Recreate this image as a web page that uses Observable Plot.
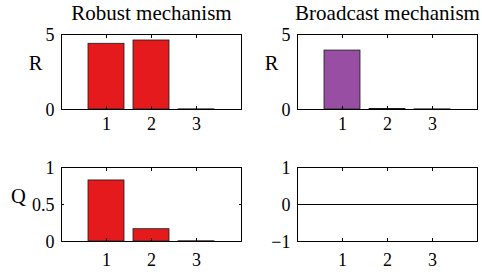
<!DOCTYPE html>
<html>
<head>
<meta charset="utf-8">
<script src="https://cdn.jsdelivr.net/npm/d3@7"></script>
<script src="https://cdn.jsdelivr.net/npm/@observablehq/plot@0.6"></script>
<style>
  html, body { margin: 0; padding: 0; background: #fff; }
  #chart { position: relative; width: 482px; height: 278px; overflow: hidden; font-family: "Liberation Serif", serif; }
  #chart > svg { position: absolute; overflow: visible; }
  #chart svg text { font-family: "Liberation Serif", serif !important; }
</style>
</head>
<body>
<div id="chart"></div>
<script>
// ---- data ----
const categories = [1, 2, 3];
const xTicks = [1, 2, 3];
const robustR = [4.38, 4.6, 0.01];
const broadcastR = [3.93, 0.03, 0.01];
const robustQ = [0.825, 0.166, 0.003];
const broadcastQ = [0, 0, 0];
const titles = ["Robust mechanism", "Broadcast mechanism"];
const yLabels = ["R", "Q"];
const rTicks = [0, 5];
const qTicksRobust = [0, 0.5, 1];
const qTicksBroadcast = [-1, 0, 1];

const RED = "#e41a1c";
const PURPLE = "#984ea3";
const FONT = "Liberation Serif";
const fmt = d => d < 0 ? "\u2212" + Math.abs(d) : String(d);

function panel({values, colors, yDomain, yTicks, title, ylabel, ylabelDx, ylabelDy,
                left, top, width, height, mL, mR, mT, mB, xPad}) {
  const data = categories.map((c, i) => ({c, v: values[i], color: colors[i]}));
  const marks = [
    Plot.rectY(data, {x1: d => d.c - 0.4, x2: d => d.c + 0.4, y1: 0, y2: "v",
                      fill: "color", stroke: "#1a1a1a", strokeWidth: 0.8}),
    Plot.ruleY([0], {stroke: "#000", strokeWidth: 1}),
    Plot.frame({stroke: "#000", strokeWidth: 1}),
    // tick labels
    Plot.text(xTicks, {x: d => d, text: fmt, frameAnchor: "bottom", lineAnchor: "top", dy: xPad,
                       fontSize: 18, fontFamily: FONT, fill: "#000"}),
    Plot.text(yTicks, {y: d => d, text: fmt, frameAnchor: "left", textAnchor: "end", dx: -7, dy: 1,
                       fontSize: 18, fontFamily: FONT, fill: "#000"}),
    // inward ticks
    Plot.axisX({anchor: "bottom", ticks: xTicks, tickSize: -3, tickFormat: () => "", label: null}),
    Plot.axisX({anchor: "top", ticks: xTicks, tickSize: -3, tickFormat: () => "", label: null}),
    Plot.axisY({anchor: "left", ticks: yTicks, tickSize: -3, tickFormat: () => "", label: null}),
    Plot.axisY({anchor: "right", ticks: yTicks, tickSize: -3, tickFormat: () => "", label: null}),
    Plot.text([ylabel], {frameAnchor: "left", dx: ylabelDx, dy: ylabelDy, textAnchor: "middle", fontSize: 20.5, fontFamily: FONT, fill: "#000"})
  ];
  if (title) {
    marks.push(Plot.text([title], {frameAnchor: "top", dy: -21, textAnchor: "middle", lineAnchor: "middle", fontSize: 21, fontFamily: FONT, fill: "#000"}));
  }
  const svg = Plot.plot({
    width, height,
    marginLeft: mL, marginRight: mR, marginTop: mT, marginBottom: mB,
    style: {fontFamily: FONT, fontSize: "18px", color: "#000", background: "transparent", overflow: "visible"},
    x: {domain: [0, 4], axis: null},
    y: {domain: yDomain, axis: null},
    marks
  });
  svg.style.left = left + "px";
  svg.style.top = top + "px";
  document.getElementById("chart").appendChild(svg);
}

panel({values: robustR, colors: [RED, RED, RED], yDomain: [0, 5], yTicks: rTicks,
       title: titles[0], ylabel: yLabels[0], ylabelDx: -26, ylabelDy: -9,
       left: 0, top: 0, width: 245, height: 140, mL: 61, mR: 4, mT: 34, mB: 31, xPad: 8});
panel({values: broadcastR, colors: [PURPLE, PURPLE, PURPLE], yDomain: [0, 5], yTicks: rTicks,
       title: titles[1], ylabel: yLabels[0], ylabelDx: -26, ylabelDy: -9,
       left: 241, top: 0, width: 241, height: 140, mL: 56, mR: 5, mT: 34, mB: 31, xPad: 8});
panel({values: robustQ, colors: [RED, RED, RED], yDomain: [0, 1], yTicks: qTicksRobust,
       title: null, ylabel: yLabels[1], ylabelDx: -43, ylabelDy: -8,
       left: 0, top: 139, width: 245, height: 139, mL: 61, mR: 4, mT: 28, mB: 37, xPad: 12});
panel({values: broadcastQ, colors: [RED, RED, RED], yDomain: [-1, 1], yTicks: qTicksBroadcast,
       title: null, ylabel: "", ylabelDx: 0, ylabelDy: 0,
       left: 241, top: 139, width: 241, height: 139, mL: 56, mR: 5, mT: 28, mB: 37, xPad: 12});
</script>
</body>
</html>
